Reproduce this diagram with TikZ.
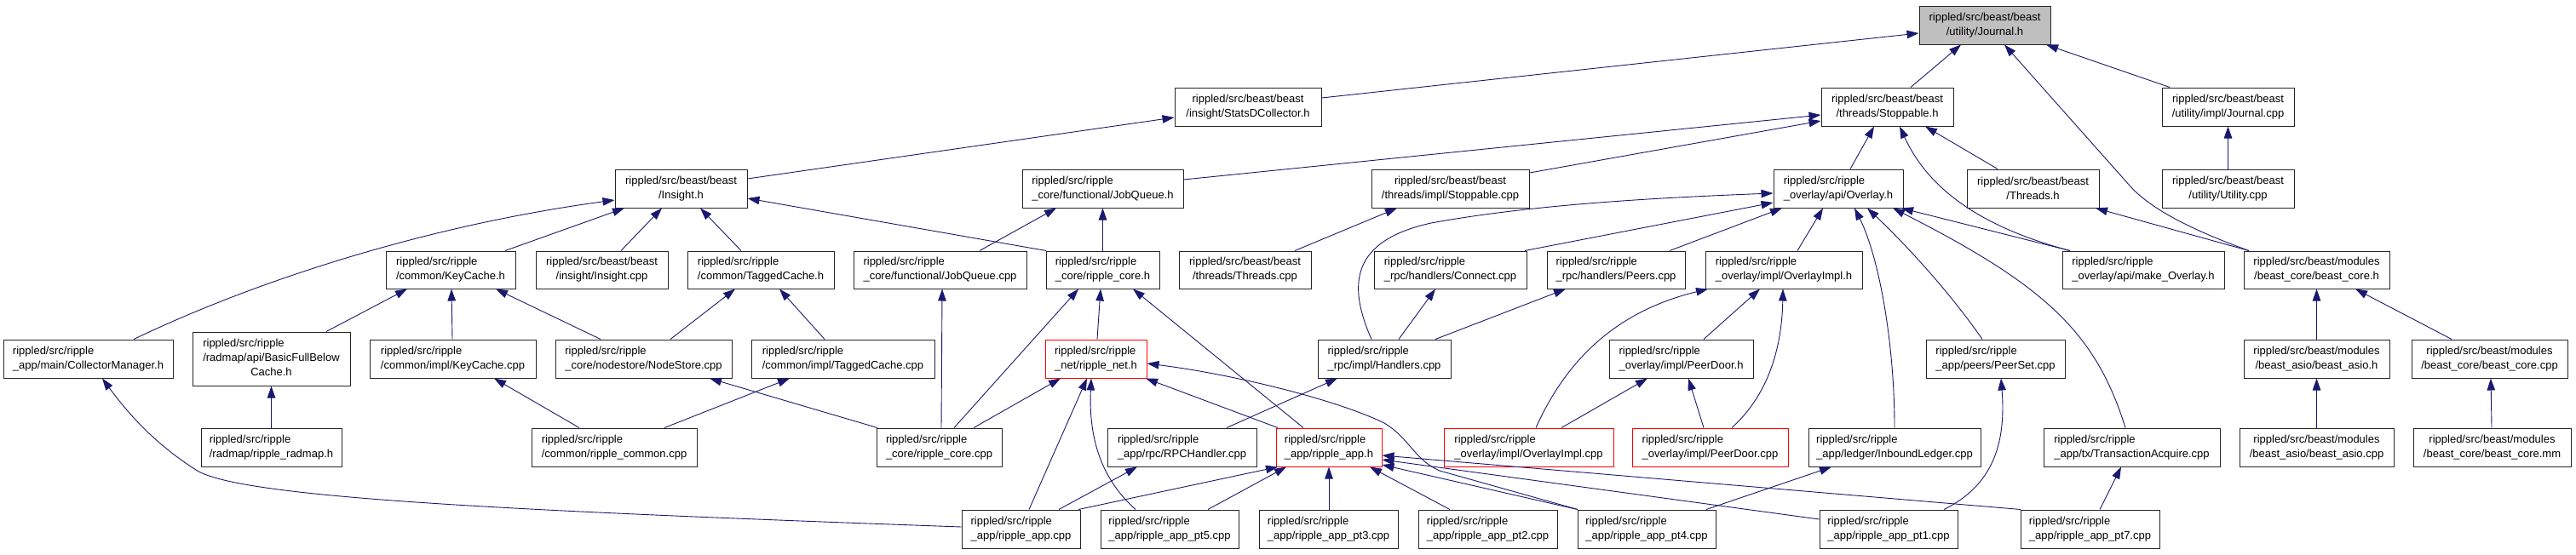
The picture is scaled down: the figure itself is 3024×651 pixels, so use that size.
\documentclass[tikz,border=0pt]{standalone}
\usepackage{fontspec}
\setmainfont{Liberation Sans}
\usetikzlibrary{arrows.meta}
\definecolor{edgeblue}{HTML}{191970}
\definecolor{boxgray}{HTML}{BFBFBF}
\newcommand{\mkfile}[7]{%
  \pgfmathsetmacro\cx{(#3+#4)/2}\pgfmathsetmacro\cy{(#5+#6)/2}%
  \pgfmathsetmacro\ww{#4-#3}\pgfmathsetmacro\hh{#6-#5}%
  \node[#1, minimum width=\ww pt, minimum height=\hh pt] (#2) at (\cx,\cy) {#7};}
\begin{document}
\begin{tikzpicture}[x=1pt,y=-1pt,
  file/.style={draw=black!85, line width=1pt, inner sep=0pt, fill=white,
    font=\fontsize{13}{17}\selectfont},
  lf/.style={file, align=left},
  cf/.style={file, align=center},
  redb/.style={draw=red},
  dep/.style={draw=edgeblue, line width=0.9pt, -{Triangle[length=14pt,width=9.5pt]}}]
\useasboundingbox (0,0) rectangle (3024,651);
% row 0
\mkfile{cf,fill=boxgray}{journal}{2253}{2407}{7}{52}{rippled/src/beast/beast\\/utility/Journal.h}
% row 1
\mkfile{cf}{statsd}{1379}{1551}{103}{148}{rippled/src/beast/beast\\/insight/StatsDCollector.h}
\mkfile{cf}{stoppable}{2138}{2293}{103}{148}{rippled/src/beast/beast\\/threads/Stoppable.h}
\mkfile{cf}{jcpp}{2538}{2693}{103}{148}{rippled/src/beast/beast\\/utility/impl/Journal.cpp}
% row 2
\mkfile{cf}{insight}{722}{877}{199}{244}{rippled/src/beast/beast\\/Insight.h}
\mkfile{lf}{jobq}{1200}{1389}{199}{244}{rippled/src/ripple\\\_core/functional/JobQueue.h}
\mkfile{cf}{stopcpp}{1610}{1795}{199}{244}{rippled/src/beast/beast\\/threads/impl/Stoppable.cpp}
\mkfile{lf}{overlay}{2082}{2234}{199}{244}{rippled/src/ripple\\\_overlay/api/Overlay.h}
\mkfile{cf}{threadsh}{2309}{2464}{199}{244}{rippled/src/beast/beast\\/Threads.h}
\mkfile{cf}{utility}{2538}{2693}{199}{244}{rippled/src/beast/beast\\/utility/Utility.cpp}
% row 3
\mkfile{lf}{keycacheh}{453}{605}{295}{339}{rippled/src/ripple\\/common/KeyCache.h}
\mkfile{cf}{insightcpp}{629}{784}{295}{339}{rippled/src/beast/beast\\/insight/Insight.cpp}
\mkfile{lf}{taggedh}{807}{979}{295}{339}{rippled/src/ripple\\/common/TaggedCache.h}
\mkfile{lf}{jobqcpp}{1002}{1205}{295}{339}{rippled/src/ripple\\\_core/functional/JobQueue.cpp}
\mkfile{lf}{coreh}{1228}{1361}{295}{339}{rippled/src/ripple\\\_core/ripple\_core.h}
\mkfile{cf}{threadscpp}{1384}{1539}{295}{339}{rippled/src/beast/beast\\/threads/Threads.cpp}
\mkfile{lf}{connect}{1613}{1792}{295}{339}{rippled/src/ripple\\\_rpc/handlers/Connect.cpp}
\mkfile{lf}{peers}{1816}{1978}{295}{339}{rippled/src/ripple\\\_rpc/handlers/Peers.cpp}
\mkfile{lf}{ovimplh}{2002}{2186}{295}{339}{rippled/src/ripple\\\_overlay/impl/OverlayImpl.h}
\mkfile{lf}{makeov}{2421}{2611}{295}{339}{rippled/src/ripple\\\_overlay/api/make\_Overlay.h}
\mkfile{cf}{bcoreh}{2634}{2805}{295}{339}{rippled/src/beast/modules\\/beast\_core/beast\_core.h}
% row 4
\mkfile{lf}{collector}{4}{203}{399}{444}{rippled/src/ripple\\\_app/main/CollectorManager.h}
\mkfile{file}{basicfull}{226}{411}{390}{453}{\begin{tabular}{@{}l@{}}rippled/src/ripple\\/radmap/api/BasicFullBelow\\\multicolumn{1}{@{}c@{}}{Cache.h}\end{tabular}}
\mkfile{lf}{keycachecpp}{434}{629}{399}{444}{rippled/src/ripple\\/common/impl/KeyCache.cpp}
\mkfile{lf}{nodestore}{652}{859}{399}{444}{rippled/src/ripple\\\_core/nodestore/NodeStore.cpp}
\mkfile{lf}{taggedcpp}{882}{1097}{399}{444}{rippled/src/ripple\\/common/impl/TaggedCache.cpp}
\mkfile{lf,redb}{neth}{1227}{1346}{399}{444}{rippled/src/ripple\\\_net/ripple\_net.h}
\mkfile{lf}{handlers}{1547}{1703}{399}{444}{rippled/src/ripple\\\_rpc/impl/Handlers.cpp}
\mkfile{lf}{peerdoorh}{1889}{2058}{399}{444}{rippled/src/ripple\\\_overlay/impl/PeerDoor.h}
\mkfile{lf}{peerset}{2261}{2424}{399}{444}{rippled/src/ripple\\\_app/peers/PeerSet.cpp}
\mkfile{cf}{basioh}{2634}{2805}{399}{444}{rippled/src/beast/modules\\/beast\_asio/beast\_asio.h}
\mkfile{cf}{bcorecpp}{2831}{3014}{399}{444}{rippled/src/beast/modules\\/beast\_core/beast\_core.cpp}
% row 5
\mkfile{lf}{radmap}{236}{401}{503}{548}{rippled/src/ripple\\/radmap/ripple\_radmap.h}
\mkfile{lf}{commoncpp}{624}{818}{503}{548}{rippled/src/ripple\\/common/ripple\_common.cpp}
\mkfile{lf}{corecpp}{1029}{1176}{503}{548}{rippled/src/ripple\\\_core/ripple\_core.cpp}
\mkfile{lf}{rpch}{1300}{1475}{503}{548}{rippled/src/ripple\\\_app/rpc/RPCHandler.cpp}
\mkfile{lf,redb}{apph}{1498}{1622}{503}{548}{rippled/src/ripple\\\_app/ripple\_app.h}
\mkfile{lf,redb}{ovimplcpp}{1695}{1894}{503}{548}{rippled/src/ripple\\\_overlay/impl/OverlayImpl.cpp}
\mkfile{lf,redb}{peerdoorcpp}{1916}{2099}{503}{548}{rippled/src/ripple\\\_overlay/impl/PeerDoor.cpp}
\mkfile{lf}{inbound}{2123}{2325}{503}{548}{rippled/src/ripple\\\_app/ledger/InboundLedger.cpp}
\mkfile{lf}{txacq}{2399}{2606}{503}{548}{rippled/src/ripple\\\_app/tx/TransactionAcquire.cpp}
\mkfile{cf}{basiocpp}{2629}{2810}{503}{548}{rippled/src/beast/modules\\/beast\_asio/beast\_asio.cpp}
\mkfile{cf}{bcoremm}{2833}{3018}{503}{548}{rippled/src/beast/modules\\/beast\_core/beast\_core.mm}
% row 6
\mkfile{lf}{appcpp}{1129}{1268}{599}{644}{rippled/src/ripple\\\_app/ripple\_app.cpp}
\mkfile{lf}{pt5}{1292}{1454}{599}{644}{rippled/src/ripple\\\_app/ripple\_app\_pt5.cpp}
\mkfile{lf}{pt3}{1478}{1641}{599}{644}{rippled/src/ripple\\\_app/ripple\_app\_pt3.cpp}
\mkfile{lf}{pt2}{1665}{1828}{599}{644}{rippled/src/ripple\\\_app/ripple\_app\_pt2.cpp}
\mkfile{lf}{pt4}{1852}{2014}{599}{644}{rippled/src/ripple\\\_app/ripple\_app\_pt4.cpp}
\mkfile{lf}{pt1}{2136}{2298}{599}{644}{rippled/src/ripple\\\_app/ripple\_app\_pt1.cpp}
\mkfile{lf}{pt7}{2372}{2535}{599}{644}{rippled/src/ripple\\\_app/ripple\_app\_pt7.cpp}
% edges
\draw[dep] (statsd.east |- 0,115) -- (journal.west |- 0,39);
\draw[dep] (stoppable.north -| 2243,0) -- (journal.south -| 2302,0);
\draw[dep] (bcoreh.north -| 2640,0) .. controls (2595,278) and (2530,252) .. (2500,218) -- (journal.south -| 2353,0);
\draw[dep] (jcpp.north -| 2547,0) -- (journal.south -| 2402,0);
\draw[dep] (utility) -- (jcpp);
\draw[dep] (insight.east |- 0,210) -- (statsd.west |- 0,138);
\draw[dep] (collector.north -| 157,0) .. controls (300,330) and (500,265) .. (insight.west |- 0,235);
\draw[dep] (keycacheh.north -| 593,0) -- (insight.south -| 733,0);
\draw[dep] (insightcpp.north -| 729,0) -- (insight.south -| 777,0);
\draw[dep] (taggedh.north -| 870,0) -- (insight.south -| 822,0);
\draw[dep] (coreh.north -| 1228,0) -- (insight.east |- 0,233);
\draw[dep] (jobq.east |- 0,211) -- (stoppable.west |- 0,135);
\draw[dep] (stopcpp.east |- 0,203) -- (stoppable.west |- 0,142);
\draw[dep] (overlay.north -| 2172,0) -- (stoppable.south -| 2200,0);
\draw[dep] (threadsh.north -| 2345,0) -- (stoppable.south -| 2260,0);
\draw[dep] (makeov.north -| 2430,0) .. controls (2330,268) and (2265,225) .. (stoppable.south -| 2230,0);
\draw[dep] (jobqcpp.north -| 1150,0) -- (jobq.south -| 1240,0);
\draw[dep] (coreh) -- (jobq);
\draw[dep] (threadscpp.north -| 1520,0) -- (stopcpp.south -| 1640,0);
\draw[dep] (handlers.north -| 1610,0) .. controls (1582,335) and (1585,283) .. (1680,262) .. controls (1800,240) and (1950,232) .. (overlay.west |- 0,227);
\draw[dep] (connect.north -| 1790,0) -- (overlay.west |- 0,238);
\draw[dep] (peers.north -| 1960,0) -- (overlay.south -| 2092,0);
\draw[dep] (ovimplh.north -| 2110,0) -- (overlay.south -| 2140,0);
\draw[dep] (inbound.north -| 2224,0) .. controls (2224,400) and (2205,300) .. (overlay.south -| 2177,0);
\draw[dep] (peerset.north -| 2327,0) .. controls (2290,345) and (2240,290) .. (overlay.south -| 2192,0);
\draw[dep] (txacq.north -| 2495,0) .. controls (2460,390) and (2400,335) .. (overlay.south -| 2222,0);
\draw[dep] (makeov.north -| 2430,0) -- (overlay.south -| 2232,0);
\draw[dep] (bcoreh.north -| 2640,0) -- (threadsh.south -| 2460,0);
\draw[dep] (ovimplcpp.north -| 1803,0) .. controls (1840,420) and (1900,365) .. (ovimplh.south -| 2005,0);
\draw[dep] (peerdoorh.north -| 2000,0) -- (ovimplh.south -| 2066,0);
\draw[dep] (peerdoorcpp.north -| 2033,0) .. controls (2080,460) and (2092,400) .. (ovimplh.south -| 2093,0);
\draw[dep] (ovimplcpp.north -| 1833,0) -- (peerdoorh.south -| 1934,0);
\draw[dep] (peerdoorcpp.north -| 2000,0) -- (peerdoorh.south -| 1982,0);
\draw[dep] (handlers.north -| 1642,0) -- (connect.south -| 1685,0);
\draw[dep] (handlers.north -| 1685,0) -- (peers.south -| 1838,0);
\draw[dep] (rpch.north -| 1440,0) -- (handlers.south -| 1570,0);
\draw[dep] (keycachecpp.north -| 531,0) -- (keycacheh.south -| 530,0);
\draw[dep] (nodestore.north -| 705,0) -- (keycacheh.south -| 582,0);
\draw[dep] (basicfull.north -| 383,0) -- (keycacheh.south -| 478,0);
\draw[dep] (nodestore.north -| 787,0) -- (taggedh.south -| 863,0);
\draw[dep] (taggedcpp.north -| 968,0) -- (taggedh.south -| 915,0);
\draw[dep] (radmap) -- (basicfull);
\draw[dep] (commoncpp.north -| 680,0) -- (keycachecpp.south -| 580,0);
\draw[dep] (commoncpp.north -| 780,0) -- (taggedcpp.south -| 927,0);
\draw[dep] (corecpp.north -| 1105,0) -- (jobqcpp.south -| 1106,0);
\draw[dep] (corecpp.north -| 1120,0) -- (coreh.south -| 1266,0);
\draw[dep] (corecpp.north -| 1143,0) -- (neth.south -| 1245,0);
\draw[dep] (corecpp.north -| 1030,0) -- (nodestore.south -| 833,0);
\draw[dep] (neth.north -| 1288,0) -- (coreh.south -| 1292,0);
\draw[dep] (apph.north -| 1530,0) -- (coreh.south -| 1330,0);
\draw[dep] (apph.north -| 1500,0) -- (neth.south -| 1345,0);
\draw[dep] (appcpp.north -| 1208,0) -- (neth.south -| 1276,0);
\draw[dep] (pt5.north -| 1333,0) .. controls (1290,560) and (1278,510) .. (neth.south -| 1281,0);
\draw[dep] (pt4.north -| 1852,0) -- (1690,553) .. controls (1660,540) and (1655,515) .. (1625,497) .. controls (1570,470) and (1450,440) .. (neth.east |- 0,427);
\draw[dep] (appcpp.north -| 1266,0) -- (apph.south -| 1500,0);
\draw[dep] (pt5.north -| 1418,0) -- (apph.south -| 1510,0);
\draw[dep] (pt3.north -| 1560,0) -- (apph.south -| 1560,0);
\draw[dep] (pt2.north -| 1702,0) -- (apph.south -| 1608,0);
\draw[dep] (pt4.north -| 1852,0) -- (apph.east |- 0,546);
\draw[dep] (pt1.west |- 0,610) -- (apph.east |- 0,540);
\draw[dep] (pt7.north -| 2372,0) -- (apph.east |- 0,535);
\draw[dep] (pt4.north -| 2003,0) -- (inbound.south -| 2150,0);
\draw[dep] (pt1.north -| 2282,0) .. controls (2340,570) and (2355,520) .. (peerset.south -| 2349,0);
\draw[dep] (pt7.north -| 2465,0) -- (txacq.south -| 2490,0);
\draw[dep] (appcpp.north -| 1243,0) -- (rpch.south -| 1335,0);
\draw[dep] (appcpp.west |- 0,619) .. controls (600,600) and (280,585) .. (230,552) .. controls (180,520) and (150,485) .. (collector.south -| 120,0);
\draw[dep] (basioh) -- (bcoreh);
\draw[dep] (bcorecpp.north -| 2878,0) -- (bcoreh.south -| 2765,0);
\draw[dep] (basiocpp) -- (basioh);
\draw[dep] (bcoremm.north -| 2925,0) -- (bcorecpp.south -| 2924,0);
\end{tikzpicture}
\end{document}
